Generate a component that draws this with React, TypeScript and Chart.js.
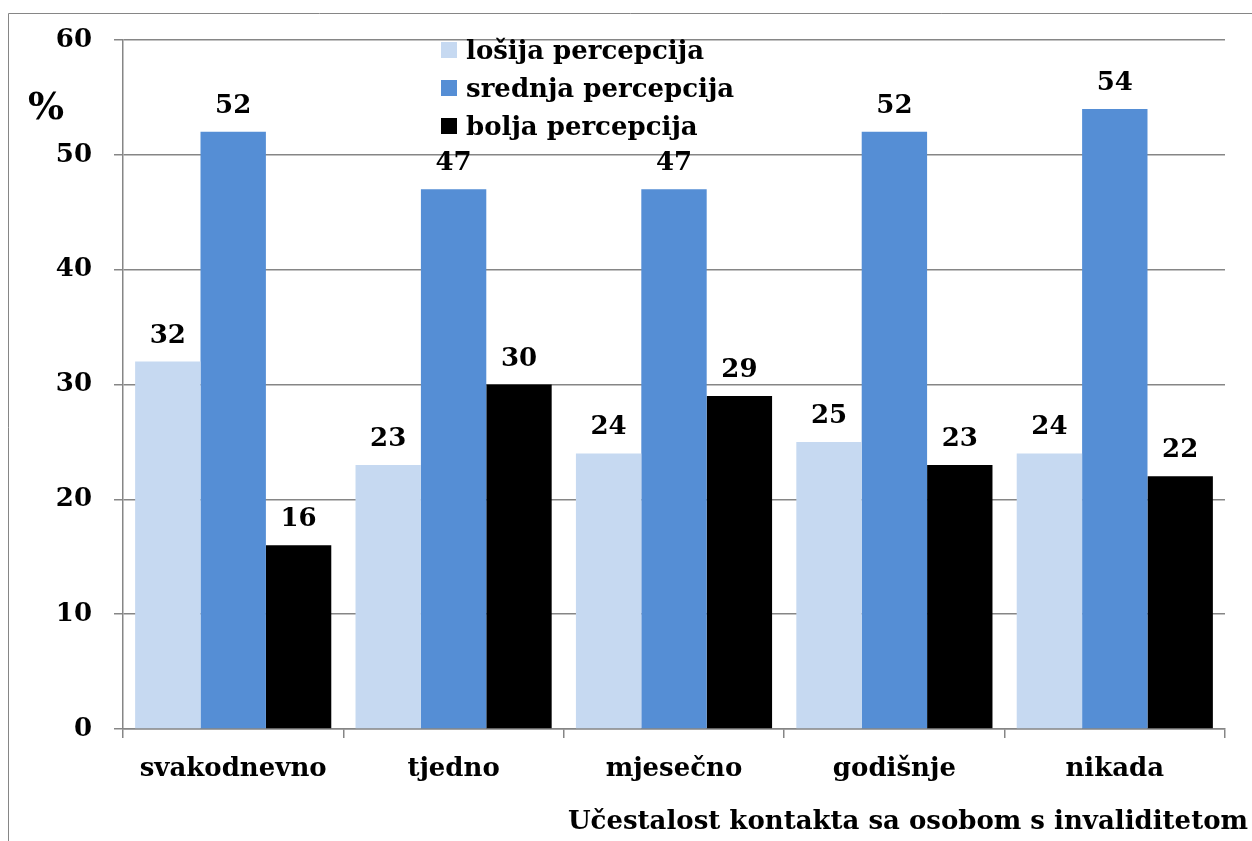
import React, { useEffect, useRef } from "react";
import { Chart, registerables } from "chart.js";

Chart.register(...registerables);

const categories = ["svakodnevno", "tjedno", "mjesečno", "godišnje", "nikada"];
const seriesNames = ["lošija percepcija", "srednja percepcija", "bolja percepcija"];
const losija = [32, 23, 24, 25, 24];
const srednja = [52, 47, 47, 52, 54];
const bolja = [16, 30, 29, 23, 22];
const yTicks = [0, 10, 20, 30, 40, 50, 60];
const xTitle = "Učestalost kontakta sa osobom s invaliditetom";
const yTitle = "%";

const colors = ["#C6D9F1", "#558ED5", "#000000"];
const FONT = "'DejaVu Serif', 'Liberation Serif', serif";
const GRID = "#868686";
const FS = 26;

const extrasPlugin = {
  id: "extras",
  afterDatasetsDraw(chart: any) {
    const ctx = chart.ctx;
    ctx.save();
    // data labels
    ctx.fillStyle = "#000";
    ctx.font = `bold ${FS}px ${FONT}`;
    ctx.textAlign = "center";
    ctx.textBaseline = "alphabetic";
    chart.data.datasets.forEach((ds: any, i: number) => {
      const meta = chart.getDatasetMeta(i);
      meta.data.forEach((el: any, j: number) => {
        ctx.fillText(String(ds.data[j]), el.x, el.y - 19);
      });
    });
    // legend
    const lx = 441;
    const ly = 42;
    chart.data.datasets.forEach((ds: any, i: number) => {
      const y = ly + i * 38;
      ctx.fillStyle = ds.backgroundColor;
      ctx.fillRect(lx, y, 16, 16);
      ctx.fillStyle = "#000";
      ctx.textAlign = "left";
      ctx.font = `bold ${FS}px ${FONT}`;
      ctx.fillText(ds.label, lx + 25, y + 17);
    });
    // axis titles
    ctx.textAlign = "right";
    ctx.font = `bold ${FS}px ${FONT}`;
    ctx.fillText(xTitle, 1248, 829);
    ctx.textAlign = "left";
    ctx.font = `bold 38px ${FONT}`;
    ctx.fillText(yTitle, 28, 119);
    // outer border
    ctx.strokeStyle = GRID;
    ctx.lineWidth = 1;
    ctx.beginPath();
    ctx.moveTo(8.5, 850);
    ctx.lineTo(8.5, 13.5);
    ctx.lineTo(1260, 13.5);
    ctx.stroke();
    ctx.restore();
  },
};

export default function App() {
  const ref = useRef<HTMLCanvasElement | null>(null);
  useEffect(() => {
    if (!ref.current) return;
    const chart = new Chart(ref.current, {
      type: "bar",
      data: {
        labels: categories,
        datasets: [
          { label: seriesNames[0], data: losija, backgroundColor: colors[0] },
          { label: seriesNames[1], data: srednja, backgroundColor: colors[1] },
          { label: seriesNames[2], data: bolja, backgroundColor: colors[2] },
        ],
      },
      options: {
        animation: false,
        responsive: false,
        maintainAspectRatio: false,
        layout: { padding: { left: 0, top: 40, right: 27, bottom: 0 } },
        datasets: { bar: { categoryPercentage: 0.89, barPercentage: 1 } },
        plugins: { legend: { display: false }, tooltip: { enabled: false } },
        scales: {
          x: {
            offset: true,
            grid: {
              offset: true,
              drawOnChartArea: false,
              tickLength: 9,
              color: GRID,
              lineWidth: 1.5,
            },
            border: { color: GRID, width: 1.5 },
            ticks: {
              color: "#000",
              font: { family: FONT, size: FS, weight: "bold" },
              padding: 16,
              maxRotation: 0,
            },
            afterFit(scale: any) {
              scale.height = 112;
            },
          },
          y: {
            min: 0,
            max: 60,
            afterBuildTicks(scale: any) {
              scale.ticks = yTicks.map((v) => ({ value: v }));
            },
            grid: { color: GRID, tickLength: 9, lineWidth: 1.5 },
            border: { color: GRID, width: 1.5 },
            ticks: {
              color: "#000",
              font: { family: FONT, size: FS, weight: "bold" },
              padding: 22,
            },
            afterFit(scale: any) {
              scale.width = 123;
            },
          },
        },
      },
      plugins: [extrasPlugin],
    });
    return () => chart.destroy();
  }, []);
  return (
    <div style={{ position: "fixed", left: 0, top: 0, width: 1252, height: 841, background: "#fff" }}>
      <canvas ref={ref} width={1252} height={841} style={{ display: "block" }} />
    </div>
  );
}
